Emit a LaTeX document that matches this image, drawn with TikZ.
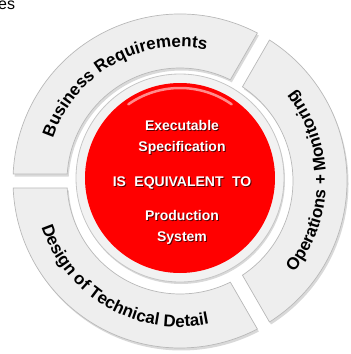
\documentclass[tikz,border=0pt]{standalone}
\usepackage{fontspec}
\setmainfont{Liberation Sans}
\usetikzlibrary{decorations.text,shadows}

\pgfdeclareradialshading{redball}{\pgfpoint{0bp}{6bp}}{%
  color(0bp)=(red); color(36bp)=(red); color(45bp)=(red!85!black); color(50bp)=(red!60!black)}

\tikzset{
  segment/.style={fill=gray!13, draw=gray!55, line width=0.7pt,
    drop shadow={shadow xshift=1.5pt, shadow yshift=-2.5pt, opacity=0.3}},
  ringlabel/.style={decorate, decoration={text along path, text align=center,
    text={|\fontsize{17}{17}\selectfont\bfseries|#1}}},
  centertext/.style={text=white, align=center, font=\fontsize{14}{21}\selectfont\bfseries},
  textshadow/.style={centertext, text=red!35!black, xshift=1pt, yshift=-1pt}
}

\begin{document}
\begin{tikzpicture}[x=1pt,y=1pt]
  \useasboundingbox (-180,-173) rectangle (171,181);
  \clip (-180,-173) rectangle (171,181);

  % caption above, cut off
  \node[anchor=base west, inner sep=0pt, font=\fontsize{16}{16}\selectfont] (caption) at (-182,172) {es};

  % ring segments
  \foreach \g in {60,180,300}{
    \path[segment] ({\g+2.4}:167pt) arc[start angle={\g+2.4}, end angle={\g+117.6}, radius=167pt]
      -- ({\g+116.45}:113pt) arc[start angle={\g+116.45}, end angle={\g+3.55}, radius=113pt] -- cycle;
  }

  % labels on the ring
  \path[ringlabel=Business Requirements] (174:134pt) arc[start angle=174, end angle=66, radius=134pt];
  \path[ringlabel=Operations + Monitoring] (-54:146pt) arc[start angle=-54, end angle=54, radius=146pt];
  \path[ringlabel=Design of Technical Detail] (186:146pt) arc[start angle=186, end angle=294, radius=146pt];

  % bevel and red disc
  \path[fill=gray!10, draw=gray!45, line width=0.8pt,
    drop shadow={shadow xshift=1pt, shadow yshift=-2pt, opacity=0.3}] (0,3) circle[radius=104pt];
  \shade[shading=redball] (0,3) circle[radius=95pt];
  \draw[white, opacity=.55, line width=2.5pt, line cap=round]
    ([shift={(0,3)}]55:90pt) arc[start angle=55, end angle=125, radius=90pt];

  % centre text
  \node[textshadow] at (2,43.5) {Executable\\Specification};
  \node[centertext] (spec) at (2,43.5) {Executable\\Specification};
  \node[textshadow] at (2,-2) {IS\hspace{0.6em}EQUIVALENT\hspace{0.6em}TO};
  \node[centertext] (equiv) at (2,-2) {IS\hspace{0.6em}EQUIVALENT\hspace{0.6em}TO};
  \node[textshadow] at (2,-46.5) {Production\\System};
  \node[centertext] (prod) at (2,-46.5) {Production\\System};
\end{tikzpicture}
\end{document}
